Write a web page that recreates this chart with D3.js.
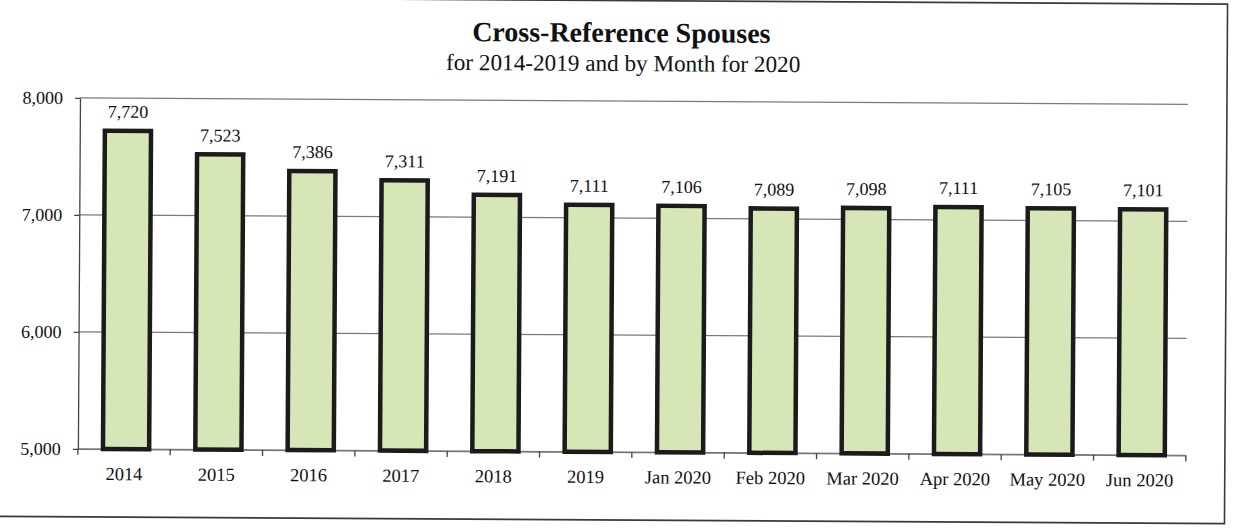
<!DOCTYPE html>
<html>
<head>
<meta charset="utf-8">
<script src="https://cdn.jsdelivr.net/npm/d3@7"></script>
<style>
  body { margin: 0; background: #fff; }
  svg { display: block; }
  text { font-family: "Liberation Serif", "Times New Roman", serif; fill: #111; }
</style>
</head>
<body>
<div id="chart"></div>
<script>
// data
var categories = ["2014", "2015", "2016", "2017", "2018", "2019",
  "Jan 2020", "Feb 2020", "Mar 2020", "Apr 2020", "May 2020", "Jun 2020"];
var values = [7720, 7523, 7386, 7311, 7191, 7111, 7106, 7089, 7098, 7111, 7105, 7101];
var yTicks = [5000, 6000, 7000, 8000];

var svgWidth = 1233;
var svgHeight = 529;

var margin = { top: 101, right: 46, bottom: 77, left: 79 };
var width = svgWidth - margin.left - margin.right;
var height = svgHeight - margin.top - margin.bottom;

var svg = d3.select("#chart")
  .append("svg")
  .attr("width", svgWidth)
  .attr("height", svgHeight);

// the scan is a little tilted
var page = svg.append("g")
  .attr("transform", "rotate(0.34, 616, 264)");

// frame
page.append("rect")
  .attr("x", -6)
  .attr("y", 0.5)
  .attr("width", 1232)
  .attr("height", 519.5)
  .attr("fill", "none")
  .attr("stroke", "#3a3a3a")
  .attr("stroke-width", 1.6);

// titles
page.append("text")
  .attr("x", 620)
  .attr("y", 42)
  .attr("text-anchor", "middle")
  .attr("font-size", "28px")
  .attr("font-weight", "bold")
  .text("Cross-Reference Spouses");

page.append("text")
  .attr("x", 622)
  .attr("y", 71)
  .attr("text-anchor", "middle")
  .attr("font-size", "23.2px")
  .text("for 2014-2019 and by Month for 2020");

var chartGroup = page.append("g")
  .attr("transform", `translate(${margin.left}, ${margin.top})`);

var xBandScale = d3.scaleBand()
  .domain(categories)
  .range([0, width])
  .paddingInner(0.5)
  .paddingOuter(0.25);

var yLinearScale = d3.scaleLinear()
  .domain([5000, 8000])
  .range([height, 0]);

// gridlines
chartGroup.append("g")
  .selectAll("line")
  .data(yTicks)
  .enter()
  .append("line")
  .attr("x1", 0)
  .attr("x2", width)
  .attr("y1", d => yLinearScale(d))
  .attr("y2", d => yLinearScale(d))
  .attr("stroke", "#7a7a7a")
  .attr("stroke-width", 1.2);

// y axis
var leftAxis = d3.axisLeft(yLinearScale)
  .tickValues(yTicks)
  .tickFormat(d3.format(","))
  .tickSizeInner(5)
  .tickSizeOuter(0)
  .tickPadding(12);

var yAxis = chartGroup.append("g").call(leftAxis);
yAxis.select(".domain").attr("stroke", "#444").attr("stroke-width", 1.3);
yAxis.selectAll(".tick line").attr("stroke", "#444").attr("stroke-width", 1.3);
yAxis.selectAll("text")
  .attr("font-size", "18px")
  .attr("font-family", "Liberation Serif, serif")
  .attr("fill", "#111");

// x axis, ticks between categories
var step = xBandScale.step();
var bottomAxis = d3.axisBottom(xBandScale)
  .tickSize(0)
  .tickPadding(18);

var xAxis = chartGroup.append("g")
  .attr("transform", `translate(0, ${height})`)
  .call(bottomAxis);
xAxis.select(".domain").attr("stroke", "#777").attr("stroke-width", 1.2);
xAxis.selectAll("text")
  .attr("font-size", "18.5px")
  .attr("font-family", "Liberation Serif, serif")
  .attr("fill", "#111");

xAxis.selectAll(".sep")
  .data(d3.range(categories.length + 1))
  .enter()
  .append("line")
  .attr("class", "sep")
  .attr("x1", i => i * step)
  .attr("x2", i => i * step)
  .attr("y1", 0)
  .attr("y2", 6)
  .attr("stroke", "#444")
  .attr("stroke-width", 1.3);

// bars
chartGroup.selectAll(".bar")
  .data(values)
  .enter()
  .append("rect")
  .attr("class", "bar")
  .attr("x", (d, i) => xBandScale(categories[i]) + 2)
  .attr("y", d => yLinearScale(d))
  .attr("width", xBandScale.bandwidth())
  .attr("height", d => height - yLinearScale(d))
  .attr("fill", "#d7e6b6")
  .attr("stroke", "#1b1b1b")
  .attr("stroke-width", 4.5);

// value labels
chartGroup.selectAll(".val")
  .data(values)
  .enter()
  .append("text")
  .attr("class", "val")
  .attr("x", (d, i) => xBandScale(categories[i]) + 2 + xBandScale.bandwidth() / 2)
  .attr("y", d => yLinearScale(d) - 13)
  .attr("text-anchor", "middle")
  .attr("font-size", "18px")
  .text(d => d3.format(",")(d));
</script>
</body>
</html>
